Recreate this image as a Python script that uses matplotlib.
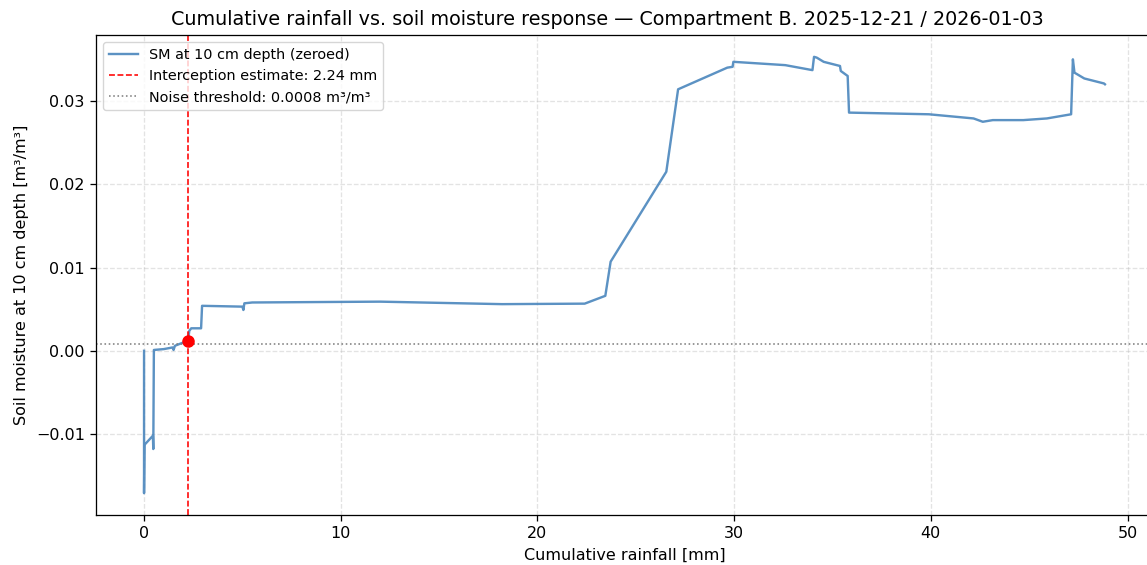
import matplotlib
matplotlib.use("Agg")
import matplotlib.pyplot as plt

# Cumulative rainfall [mm] and zeroed soil moisture at 10 cm [m³/m³]
cum_rain = [0.0, 0.0, 0.02, 0.45, 0.47, 0.50, 1.00, 1.45, 1.50, 1.57, 2.00,
            2.24, 2.30, 2.40, 2.90, 2.95, 5.00, 5.05, 5.10, 5.50, 12.0,
            18.2, 22.4, 23.45, 23.72, 26.55, 27.15, 29.65, 29.92, 29.96,
            32.6, 33.98, 34.06, 34.2, 34.55, 35.38, 35.42, 35.77, 35.84,
            39.9, 42.17, 42.64, 43.15, 44.7, 45.9, 47.13, 47.22, 47.30,
            47.8, 48.8, 48.85]
soil_moisture = [0.0000, -0.0171, -0.0113, -0.0102, -0.0118, 0.0001, 0.0002,
                 0.0004, 0.0001, 0.0006, 0.0010, 0.0012, 0.0024, 0.0027,
                 0.0027, 0.0054, 0.0053, 0.0049, 0.0057, 0.0058, 0.0059,
                 0.0056, 0.00566, 0.0066, 0.0107, 0.0215, 0.0314, 0.0340,
                 0.0341, 0.0347, 0.0343, 0.0337, 0.0353, 0.0352, 0.0347,
                 0.0342, 0.0336, 0.0330, 0.0286, 0.0284, 0.0279, 0.0275,
                 0.0277, 0.0277, 0.0279, 0.0284, 0.0350, 0.0334, 0.0327,
                 0.0321, 0.0320]

interception_mm = 2.24
interception_sm = 0.0012
noise_threshold = 0.0008

S = 1.15  # overall scale for fonts and line weights

plt.rcParams.update({
    "font.size": 10 * S,
    "axes.linewidth": 0.8 * S,
    "xtick.major.size": 3.5 * S,
    "ytick.major.size": 3.5 * S,
    "xtick.major.width": 0.8 * S,
    "ytick.major.width": 0.8 * S,
    "xtick.major.pad": 3.5 * S,
    "ytick.major.pad": 3.5 * S,
    "axes.titlepad": 6 * S,
    "axes.labelpad": 4 * S,
})

fig = plt.figure(figsize=(11.47, 5.65), dpi=100)
ax = fig.add_axes([96 / 1147, 50 / 565, (1153 - 96) / 1147, (515 - 35) / 565])

ax.plot(cum_rain, soil_moisture, color="#4a86bd", lw=1.5 * S, alpha=0.9,
        label="SM at 10 cm depth (zeroed)")
ax.axvline(interception_mm, color="red", ls="--", lw=1.0 * S,
           label=f"Interception estimate: {interception_mm:.2f} mm")
ax.axhline(noise_threshold, color="gray", ls=":", lw=1.0 * S,
           label=f"Noise threshold: {noise_threshold:.4f} m³/m³")
ax.plot([interception_mm], [interception_sm], "o", color="red", ms=8, zorder=5)

ax.set_title("Cumulative rainfall vs. soil moisture response — Compartment B. "
             "2025-12-21 / 2026-01-03", fontsize=12 * S, x=0.484)
ax.set_xlabel("Cumulative rainfall [mm]")
ax.set_ylabel("Soil moisture at 10 cm depth [m³/m³]")
ax.grid(True, ls="--", alpha=0.35, lw=0.8 * S)
ax.legend(loc="upper left", fontsize=9 * S)

fig.savefig("out.png", dpi=100)
